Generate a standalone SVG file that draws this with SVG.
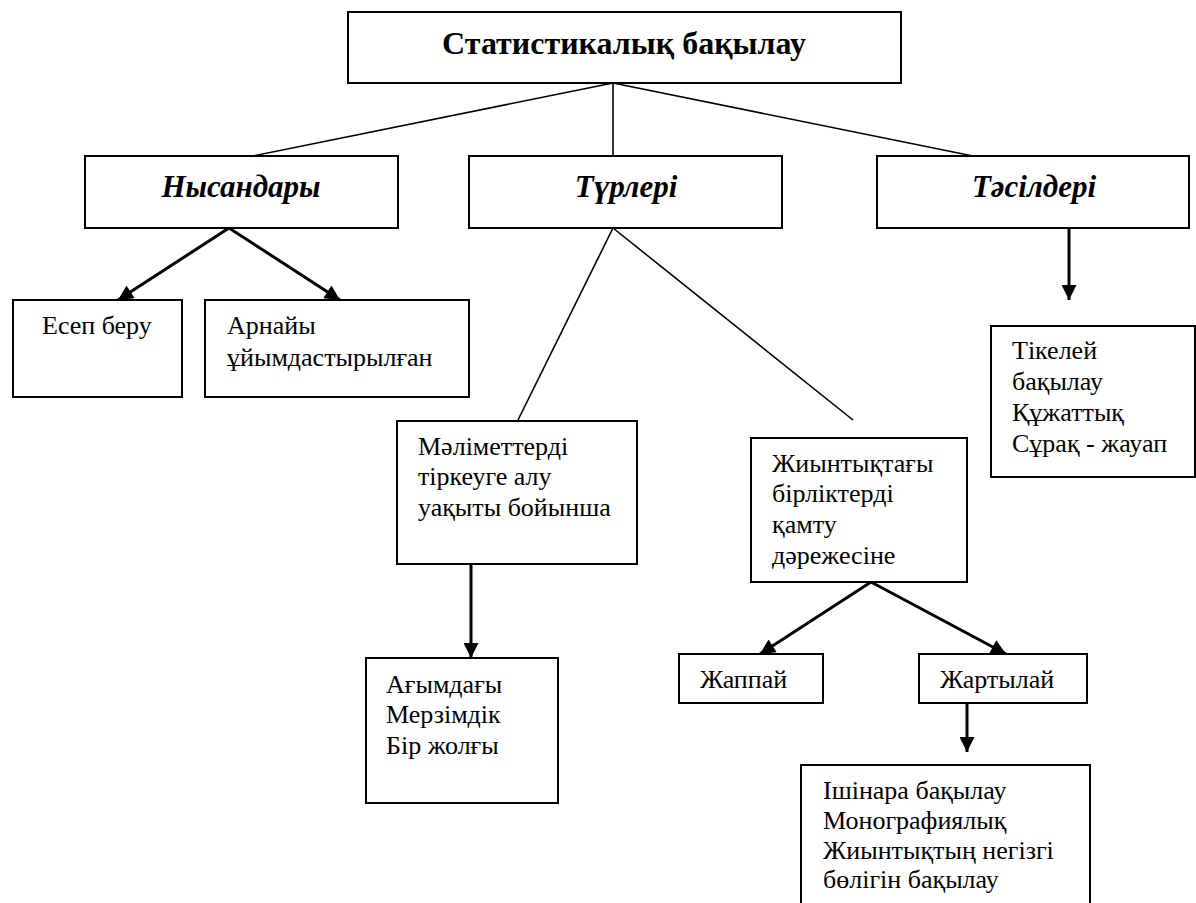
<svg xmlns="http://www.w3.org/2000/svg" width="1196" height="903" viewBox="0 0 1196 903">
<style>
.box{fill:#fff;stroke:#000;stroke-width:2}
.title{font-size:32px;font-weight:bold;text-anchor:middle;fill:#000}
.lbl{font-size:31px;font-weight:bold;font-style:italic;text-anchor:middle;fill:#000}
.t{font-size:26px;fill:#000}
.thin{stroke:#000;stroke-width:1.6;fill:none}
.arr{stroke:#000;stroke-width:3;fill:none;marker-end:url(#ah)}
</style>
<defs>
<marker id="ah" viewBox="0 0 10 10" refX="10" refY="5" markerWidth="5.5" markerHeight="5" orient="auto" markerUnits="strokeWidth">
<path d="M0,0 L10,5 L0,10 z" fill="#000"/>
</marker>
</defs>
<rect width="1196" height="903" fill="#fff"/>
<g id="connectors">
<line class="thin" x1="613" y1="83" x2="253" y2="156"/>
<line class="thin" x1="613" y1="83" x2="613" y2="156"/>
<line class="thin" x1="613" y1="83" x2="973" y2="156"/>
<line class="arr" x1="229" y1="228" x2="118" y2="300"/>
<line class="arr" x1="229" y1="228" x2="340" y2="300"/>
<line class="thin" x1="613" y1="228" x2="518" y2="420"/>
<line class="thin" x1="613" y1="228" x2="853" y2="420"/>
<line class="arr" x1="1069" y1="228" x2="1069" y2="300"/>
<line class="arr" x1="471" y1="564" x2="471" y2="658"/>
<line class="arr" x1="871" y1="582" x2="760" y2="654"/>
<line class="arr" x1="871" y1="582" x2="1006" y2="654"/>
<line class="arr" x1="967" y1="703" x2="967" y2="752"/>
</g>
<g font-family="Liberation Serif, serif">
<g id="n-root">
<rect class="box" x="348" y="12" width="553" height="71"/>
<text class="title" x="624" y="54">Статистикалық бақылау</text>
</g>
<g id="n-nysandary">
<rect class="box" x="85" y="156" width="313" height="72"/>
<text class="lbl" x="241" y="197">Нысандары</text>
</g>
<g id="n-turleri">
<rect class="box" x="469" y="156" width="313" height="72"/>
<text class="lbl" x="626" y="197">Түрлері</text>
</g>
<g id="n-tasilderi">
<rect class="box" x="877" y="156" width="312" height="72"/>
<text class="lbl" x="1034" y="197">Тәсілдері</text>
</g>
<g id="n-esep">
<rect class="box" x="13" y="300" width="169" height="97"/>
<text class="t" x="42" y="334">Есеп беру</text>
</g>
<g id="n-arnaiy">
<rect class="box" x="205" y="300" width="264" height="97"/>
<text class="t" x="227" y="334">Арнайы</text>
<text class="t" x="227" y="366">ұйымдастырылған</text>
</g>
<g id="n-malimet">
<rect class="box" x="397" y="421" width="240" height="143"/>
<text class="t" x="418" y="455">Мәліметтерді</text>
<text class="t" x="418" y="485">тіркеуге алу</text>
<text class="t" x="418" y="516">уақыты бойынша</text>
</g>
<g id="n-agym">
<rect class="box" x="366" y="658" width="192" height="145"/>
<text class="t" x="386" y="693">Ағымдағы</text>
<text class="t" x="386" y="723">Мерзімдік</text>
<text class="t" x="386" y="754">Бір жолғы</text>
</g>
<g id="n-zhiyn">
<rect class="box" x="751" y="438" width="216" height="144"/>
<text class="t" x="772" y="472">Жиынтықтағы</text>
<text class="t" x="772" y="502">бірліктерді</text>
<text class="t" x="772" y="533">қамту</text>
<text class="t" x="772" y="564">дәрежесіне</text>
</g>
<g id="n-tikeley">
<rect class="box" x="991" y="326" width="204" height="151"/>
<text class="t" x="1012" y="359">Тікелей</text>
<text class="t" x="1012" y="390">бақылау</text>
<text class="t" x="1012" y="421">Құжаттық</text>
<text class="t" x="1012" y="452">Сұрақ - жауап</text>
</g>
<g id="n-zhappai">
<rect class="box" x="679" y="654" width="144" height="49"/>
<text class="t" x="700" y="688">Жаппай</text>
</g>
<g id="n-zhartylai">
<rect class="box" x="919" y="654" width="168" height="49"/>
<text class="t" x="940" y="688">Жартылай</text>
</g>
<g id="n-ishinara">
<rect class="box" x="801" y="765" width="289" height="150"/>
<text class="t" x="823" y="799">Ішінара бақылау</text>
<text class="t" x="823" y="829">Монографиялық</text>
<text class="t" x="823" y="859">Жиынтықтың негізгі</text>
<text class="t" x="823" y="888">бөлігін бақылау</text>
</g>
</g>
</svg>
